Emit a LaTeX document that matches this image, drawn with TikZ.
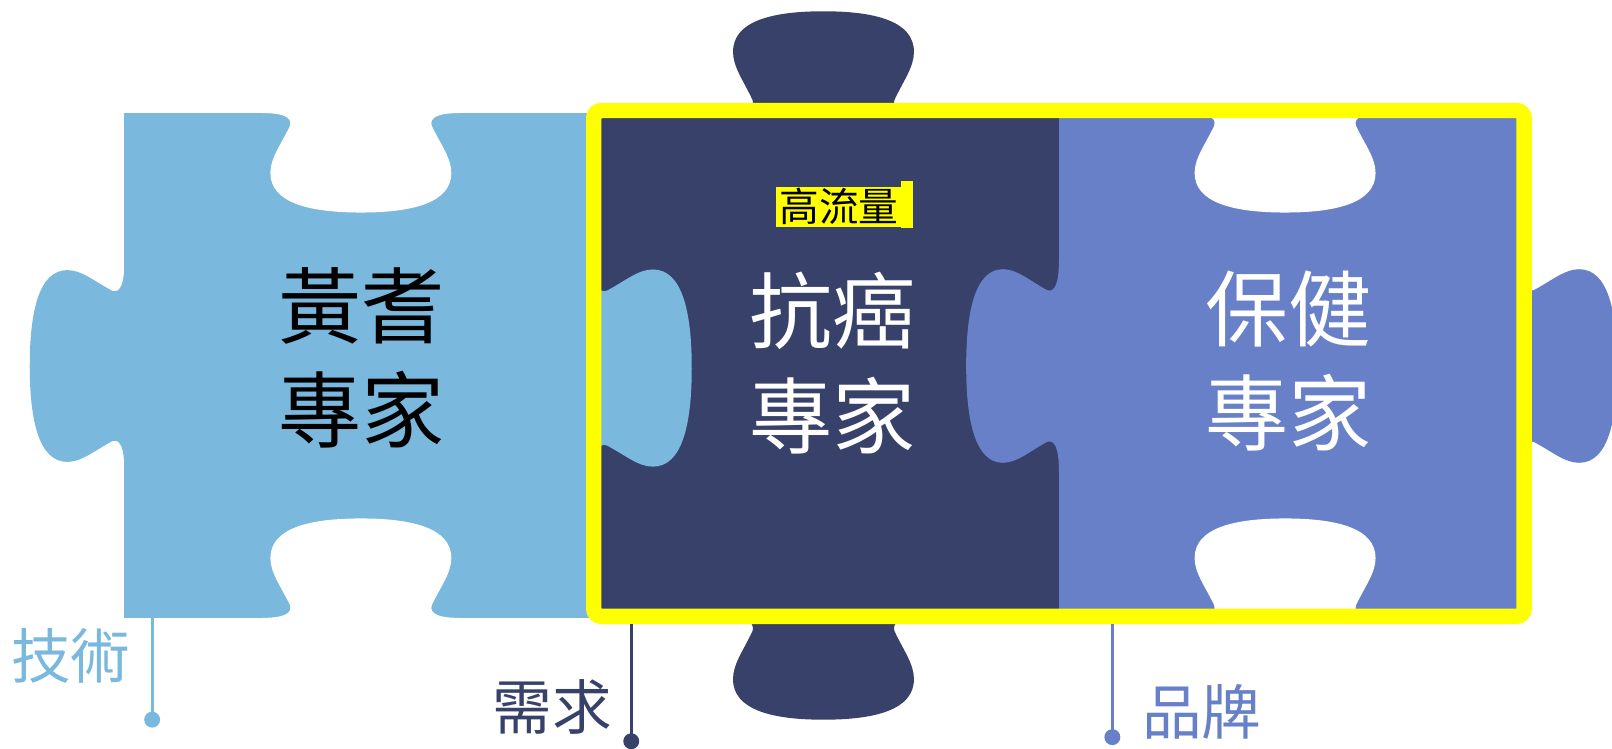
\documentclass[tikz,border=0pt]{standalone}
\usepackage{fontspec}
\setmainfont{Noto Sans CJK TC}
\definecolor{lb}{HTML}{7AB8DD}
\definecolor{navy}{HTML}{384169}
\definecolor{pb}{HTML}{6880C8}
\definecolor{ylw}{HTML}{FFFF00}
\newcommand{\tabH}{(-96,-4) -- (-96,0) .. controls (-78,0) and (-66,3) .. (-69,12) .. controls (-78,30) and (-88,42) .. (-88,56) .. controls (-88,84) and (-50,93) .. (0,93) .. controls (50,93) and (88,84) .. (88,56) .. controls (88,42) and (78,30) .. (69,12) .. controls (66,3) and (78,0) .. (96,0) -- (96,-4) -- cycle}
\newcommand{\tabV}{(-4,-96) -- (0,-96) .. controls (0,-78) and (3,-66) .. (12,-69) .. controls (30,-78) and (42,-88) .. (56,-88) .. controls (84,-88) and (93,-50) .. (93,0) .. controls (93,50) and (84,88) .. (56,88) .. controls (42,88) and (30,78) .. (12,69) .. controls (3,66) and (0,78) .. (0,96) -- (-4,96) -- cycle}
\begin{document}
\begin{tikzpicture}[x=0.02cm,y=-0.02cm,
  big/.style={font=\fontsize{46}{58}\selectfont, align=center, inner sep=0pt},
  lbl/.style={font=\fontsize{33}{40}\selectfont, inner sep=0pt},
  pin/.style={line width=0.06cm},
  pindot/.style={circle, minimum size=0.31cm, inner sep=0pt},
  frame/.style={draw=ylw, line width=0.3cm, rounded corners=0.15cm}]
\useasboundingbox (0,0) rectangle (1568,728);
\clip (0,0) rectangle (1568,728);
% light blue piece
\fill[lb] (121,110) rectangle (578,601);
\fill[lb, shift={(121,356)}, xscale=-0.99, yscale=1.06] \tabV;
\fill[white, shift={(351,110)}, yscale=1.04] \tabH;
\fill[white, shift={(351,601)}, yscale=-1.04] \tabH;
% navy piece
\fill[navy] (578,110) rectangle (1030,601);
\fill[navy, shift={(801,110)}, yscale=-1.065] \tabH;
\fill[navy, shift={(801,601)}, yscale=1.065] \tabH;
\fill[lb, shift={(578,358)}, xscale=1.02, yscale=1.09] \tabV;
% blue piece
\fill[pb] (1030,110) rectangle (1480,601);
\fill[white, shift={(1250,110)}, yscale=1.04] \tabH;
\fill[white, shift={(1250,601)}, yscale=-1.04] \tabH;
\fill[pb, shift={(1030,356)}, xscale=-0.97, yscale=1.07] \tabV;
\fill[pb, shift={(1480,356)}, xscale=1, yscale=1.07] \tabV;
% frame
\draw[frame] (577.5,107.5) rectangle (1482.5,599.5);
% texts
\node[big, text=black] (t1) at (352,348) {黃耆\\專家};
\node[big, text=white] (t2) at (810,353) {抗癌\\專家};
\node[big, text=white] (t3) at (1253,351) {保健\\專家};
\fill[ylw] (876,176) rectangle (888,222);
\node[fill=ylw, inner xsep=2pt, inner ysep=1pt, font=\fontsize{22}{24}\selectfont, text=black] (hl) at (816,201) {高流量};
% side labels
\node[lbl, text=lb] (l1) at (69,638) {技術};
\node[lbl, text=navy] (l2) at (537,688) {需求};
\node[lbl, text=pb] (l3) at (1169,692) {品牌};
\coordinate (p1) at (148,601);
\coordinate (p2) at (614,607);
\coordinate (p3) at (1082,607);
\node[pindot, fill=lb] (d1) at (148,700) {};
\node[pindot, fill=navy] (d2) at (614,721) {};
\node[pindot, fill=pb] (d3) at (1082,717) {};
\draw[pin, lb] (p1) -- (d1.center);
\draw[pin, navy] (p2) -- (d2.center);
\draw[pin, pb] (p3) -- (d3.center);
\end{tikzpicture}
\end{document}
